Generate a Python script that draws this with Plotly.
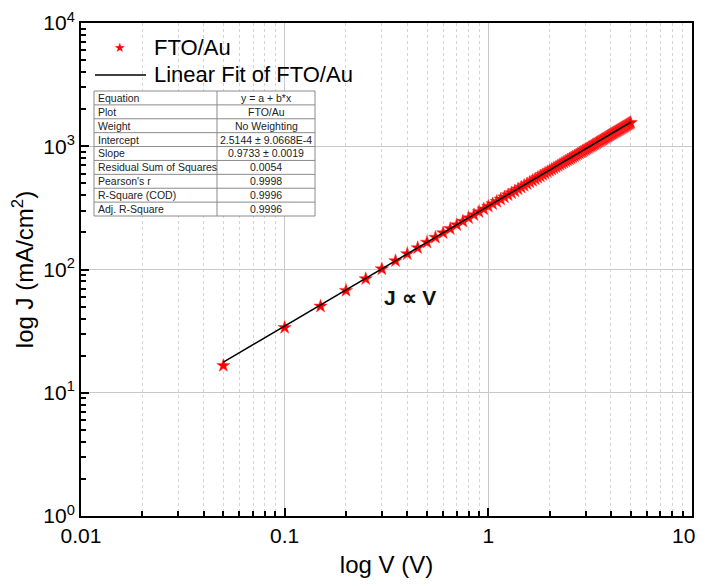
import plotly.graph_objects as go

# ---- data ----
voltage = [0.05, 0.10, 0.15, 0.20, 0.25, 0.30, 0.35, 0.40, 0.45, 0.50,
           0.55, 0.60, 0.65, 0.70, 0.75, 0.80, 0.85, 0.90, 0.95, 1.00,
           1.05, 1.10, 1.15, 1.20, 1.25, 1.30, 1.35, 1.40, 1.45, 1.50,
           1.55, 1.60, 1.65, 1.70, 1.75, 1.80, 1.85, 1.90, 1.95, 2.00,
           2.05, 2.10, 2.15, 2.20, 2.25, 2.30, 2.35, 2.40, 2.45, 2.50,
           2.55, 2.60, 2.65, 2.70, 2.75, 2.80, 2.85, 2.90, 2.95, 3.00,
           3.05, 3.10, 3.15, 3.20, 3.25, 3.30, 3.35, 3.40, 3.45, 3.50,
           3.55, 3.60, 3.65, 3.70, 3.75, 3.80, 3.85, 3.90, 3.95, 4.00,
           4.05, 4.10, 4.15, 4.20, 4.25, 4.30, 4.35, 4.40, 4.45, 4.50,
           4.55, 4.60, 4.65, 4.70, 4.75, 4.80, 4.85, 4.90, 4.95, 5.00]
current = [16.6, 33.8, 50.3, 67.5, 84.0, 101.0, 117.5, 134.0, 150.0, 166.0,
           182.0, 198.0, 214.0, 230.0, 246.0, 262.0, 277.5, 293.5, 309.0, 325.0,
           340.5, 356.0, 371.5, 387.0, 402.5, 418.0, 433.5, 449.0, 464.5, 480.0,
           495.5, 511.0, 526.5, 542.0, 557.0, 572.5, 588.0, 603.5, 619.0, 634.0,
           649.5, 665.0, 680.0, 695.5, 711.0, 726.0, 741.5, 757.0, 772.0, 787.5,
           803.0, 818.0, 833.5, 849.0, 864.0, 879.5, 895.0, 910.0, 925.5, 941.0,
           956.0, 971.5, 987.0, 1002.0, 1017.5, 1033.0, 1048.0, 1063.5, 1079.0, 1094.0,
           1109.5, 1125.0, 1140.0, 1155.5, 1171.0, 1186.0, 1201.5, 1217.0, 1232.0, 1247.5,
           1263.0, 1278.0, 1293.5, 1309.0, 1324.0, 1339.5, 1355.0, 1370.0, 1385.5, 1401.0,
           1416.0, 1431.5, 1447.0, 1462.0, 1477.5, 1493.0, 1508.0, 1523.5, 1539.0, 1554.0]
fit_v = [0.05, 5.0]
fit_j = [17.7, 1566.0]

x_tickvals = [0.01, 0.1, 1, 10]
x_ticktext = ["0.01", "0.1", "1", "10"]
y_tickvals = [1, 10, 100, 1000, 10000]
y_ticktext = ["10<sup>0</sup>", "10<sup>1</sup>", "10<sup>2</sup>", "10<sup>3</sup>", "10<sup>4</sup>"]

legend_names = ["FTO/Au", "Linear Fit of FTO/Au"]

table_labels = ["Equation", "Plot", "Weight", "Intercept", "Slope",
                "Residual Sum of Squares", "Pearson's r", "R-Square (COD)", "Adj. R-Square"]
table_values = ["y = a + b*x", "FTO/Au", "No Weighting", "2.5144 ± 9.0668E-4",
                "0.9733 ± 0.0019", "0.0054", "0.9998", "0.9996", "0.9996"]

FONT = "Liberation Sans, Arial, sans-serif"

fig = go.Figure()
fig.add_trace(go.Scatter(
    x=voltage, y=current, mode="markers", name=legend_names[0],
    marker=dict(symbol="star", size=10, color="#ff0000",
                line=dict(color="#ff3030", width=0.5)),
))
fig.add_trace(go.Scatter(
    x=fit_v, y=fit_j, mode="lines", name=legend_names[1],
    line=dict(color="black", width=1.5),
))

# page offset (body margin) and figure size, so the page does not overflow
OFF = 8
FIG_W, FIG_H = 705 - 2 * OFF, 586 - 2 * OFF
# plot area in screen pixels: x 81..692, y 23..516
L, R, T, B = 81, 692, 23, 516
W, H = R - L, B - T


def px(xp):
    return (xp - L) / W


def py(yp):
    return (B - yp) / H


shapes = []
annotations = []

# last x tick label drawn as annotation so it stays inside the page
x_ticktext_axis = x_ticktext[:-1] + [""]
annotations.append(dict(xref="paper", yref="paper", x=px(697), y=py(535),
                        text=x_ticktext[-1], showarrow=False, xanchor="right", yanchor="middle",
                        font=dict(family=FONT, size=21, color="black")))

# manual legend
annotations.append(dict(xref="paper", yref="paper", x=px(120), y=py(47),
                        text="★", showarrow=False, xanchor="center", yanchor="middle",
                        font=dict(family="DejaVu Sans", size=13, color="#ff0000")))
annotations.append(dict(xref="paper", yref="paper", x=px(152), y=py(47),
                        text=legend_names[0], showarrow=False, xanchor="left", yanchor="middle",
                        font=dict(family=FONT, size=22, color="black")))
shapes.append(dict(type="line", xref="paper", yref="paper",
                   x0=px(95), x1=px(146), y0=py(75), y1=py(75),
                   line=dict(color="black", width=1.5)))
annotations.append(dict(xref="paper", yref="paper", x=px(152), y=py(74),
                        text=legend_names[1], showarrow=False, xanchor="left", yanchor="middle",
                        font=dict(family=FONT, size=22, color="black")))

# table
tx0, tx1, tmid = 94, 315, 217
ty0, ty1 = 91, 216
n = len(table_labels)
rh = (ty1 - ty0) / n
shapes.append(dict(type="rect", xref="paper", yref="paper",
                   x0=px(tx0), x1=px(tx1), y0=py(ty1), y1=py(ty0),
                   fillcolor="white", line=dict(color="#8a8a8a", width=1), layer="above"))
shapes.append(dict(type="line", xref="paper", yref="paper",
                   x0=px(tmid), x1=px(tmid), y0=py(ty1), y1=py(ty0),
                   line=dict(color="#8a8a8a", width=1), layer="above"))
for i in range(1, n):
    yy = ty0 + i * rh
    shapes.append(dict(type="line", xref="paper", yref="paper",
                       x0=px(tx0), x1=px(tx1), y0=py(yy), y1=py(yy),
                       line=dict(color="#8a8a8a", width=1), layer="above"))
for i, (lab, val) in enumerate(zip(table_labels, table_values)):
    yc = ty0 + (i + 0.5) * rh
    annotations.append(dict(xref="paper", yref="paper", x=px(tx0 + 2), y=py(yc),
                            text=lab, showarrow=False, xanchor="left", yanchor="middle",
                            font=dict(family=FONT, size=10.5, color="#222")))
    annotations.append(dict(xref="paper", yref="paper", x=px((tmid + tx1) / 2), y=py(yc),
                            text=val, showarrow=False, xanchor="center", yanchor="middle",
                            font=dict(family=FONT, size=10.5, color="#222")))

annotations.append(dict(xref="paper", yref="paper", x=px(410), y=py(297),
                        text="<b>J ∝ V</b>", showarrow=False, xanchor="center", yanchor="middle",
                        font=dict(family=FONT, size=21, color="#111")))

fig.update_layout(
    width=FIG_W, height=FIG_H,
    margin=dict(l=L - OFF, r=FIG_W - (R - OFF), t=T - OFF, b=FIG_H - (B - OFF), autoexpand=False),
    paper_bgcolor="white", plot_bgcolor="white",
    font=dict(family=FONT, color="black"),
    showlegend=False,
    shapes=shapes, annotations=annotations,
)

fig.update_xaxes(
    type="log", range=[-2, 1], automargin=False,
    tickvals=x_tickvals, ticktext=x_ticktext_axis,
    tickfont=dict(size=21, family=FONT),
    ticks="inside", ticklen=8, tickwidth=2, tickcolor="black",
    showline=True, linecolor="black", linewidth=2, mirror=True,
    showgrid=True, gridcolor="#c8c8c8", gridwidth=1,
    minor=dict(dtick="D1", ticks="inside", ticklen=5, tickwidth=1.5, tickcolor="black",
               showgrid=True, gridcolor="#d4d4d4", griddash="dot", gridwidth=1),
    title=dict(text="log V (V)", font=dict(size=24, family=FONT), standoff=22),
    zeroline=False,
)
fig.update_yaxes(
    type="log", range=[0, 4], automargin=False,
    tickvals=y_tickvals, ticktext=y_ticktext,
    tickfont=dict(size=21, family=FONT),
    ticks="inside", ticklen=8, tickwidth=2, tickcolor="black",
    showline=True, linecolor="black", linewidth=2, mirror=True,
    showgrid=True, gridcolor="#c8c8c8", gridwidth=1,
    minor=dict(dtick="D1", ticks="inside", ticklen=5, tickwidth=1.5, tickcolor="black",
               showgrid=False),
    title=dict(text="log J (mA/cm<sup>2</sup>)", font=dict(size=24, family=FONT), standoff=6),
    zeroline=False,
)

fig.write_html("out.html")
